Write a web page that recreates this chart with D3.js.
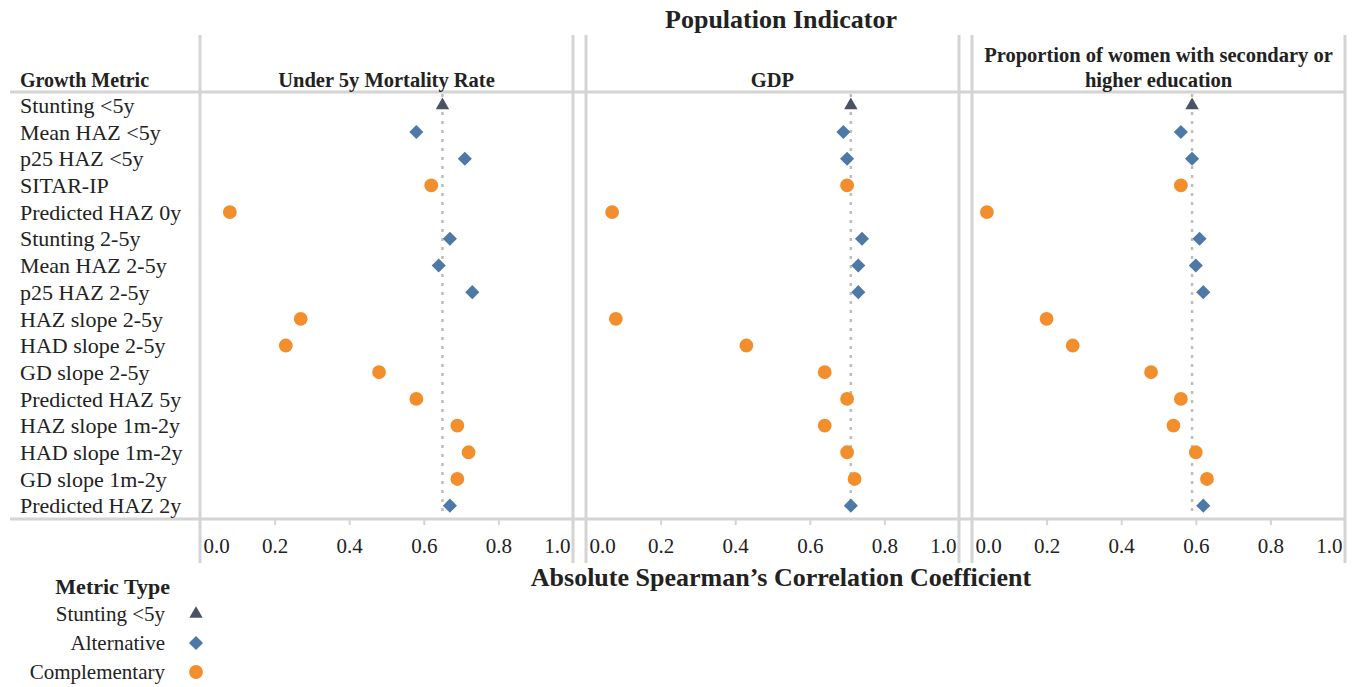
<!DOCTYPE html>
<html>
<head>
<meta charset="utf-8">
<script src="https://cdn.jsdelivr.net/npm/d3@7"></script>
<style>
  body { margin: 0; background: #fff; }
  text { font-family: "Liberation Serif", "Times New Roman", serif; fill: #222; }
</style>
</head>
<body>
<svg class="chart"></svg>
<script>
const categories = ['Stunting <5y', 'Mean HAZ <5y', 'p25 HAZ <5y', 'SITAR-IP', 'Predicted HAZ 0y',
  'Stunting 2-5y', 'Mean HAZ 2-5y', 'p25 HAZ 2-5y', 'HAZ slope 2-5y', 'HAD slope 2-5y', 'GD slope 2-5y',
  'Predicted HAZ 5y', 'HAZ slope 1m-2y', 'HAD slope 1m-2y', 'GD slope 1m-2y', 'Predicted HAZ 2y'];
const metricTypes = ['Stunting <5y', 'Alternative', 'Alternative', 'Complementary', 'Complementary',
  'Alternative', 'Alternative', 'Alternative', 'Complementary', 'Complementary', 'Complementary',
  'Complementary', 'Complementary', 'Complementary', 'Complementary', 'Alternative'];
const mortality = [0.65, 0.58, 0.71, 0.62, 0.08, 0.67, 0.64, 0.73, 0.27, 0.23, 0.48, 0.58, 0.69, 0.72, 0.69, 0.67];
const gdp = [0.71, 0.69, 0.70, 0.70, 0.07, 0.74, 0.73, 0.73, 0.08, 0.43, 0.64, 0.70, 0.64, 0.70, 0.72, 0.71];
const womenEdu = [0.59, 0.56, 0.59, 0.56, 0.04, 0.61, 0.60, 0.62, 0.20, 0.27, 0.48, 0.56, 0.54, 0.60, 0.63, 0.62];
const panelTitles = [['Under 5y Mortality Rate'], ['GDP'], ['Proportion of women with secondary or', 'higher education']];
const panelValues = [mortality, gdp, womenEdu];
const xTicks = [0, 0.2, 0.4, 0.6, 0.8, 1.0];
const legendTypes = ['Stunting <5y', 'Alternative', 'Complementary'];

const width = 1355, height = 687;
const svg = d3.select('.chart').attr('width', width).attr('height', height);

const gridColor = '#d4d4d4';
const colors = {'Stunting <5y': '#4b5263', 'Alternative': '#4e79a7', 'Complementary': '#f28e2b'};
const shapes = {
  'Stunting <5y': d3.symbol().type(d3.symbolTriangle).size(78)(),
  'Alternative': d3.symbol().type(d3.symbolSquare).size(100)(),
  'Complementary': d3.symbol().type(d3.symbolCircle).size(150)()
};
const rotate = t => t === 'Alternative' ? ' rotate(45)' : '';

const rowTop = 92, rowBottom = 519;
const y = d3.scaleBand().domain(categories).range([rowTop, rowBottom]);

const panelLeft = 200, panelWidth = 373, panelGap = 13;

// title
svg.append('text').attr('x', 781).attr('y', 28).attr('text-anchor', 'middle')
  .style('font-size', '26px').style('font-weight', 'bold').text('Population Indicator');

// header and bottom lines
[rowTop, rowBottom].forEach(yy => {
  svg.append('line').attr('x1', 10).attr('x2', 1345).attr('y1', yy).attr('y2', yy)
    .attr('stroke', gridColor).attr('stroke-width', 3);
});

svg.append('text').attr('x', 20).attr('y', 87)
  .style('font-size', '20px').style('font-weight', 'bold').text('Growth Metric');

// row labels
svg.append('g').selectAll('text').data(categories).join('text')
  .attr('x', 20).attr('y', d => y(d) + y.bandwidth() / 2).attr('dy', '0.35em')
  .style('font-size', '22px').text(d => d);

panelValues.forEach((vals, i) => {
  const left = panelLeft + i * (panelWidth + panelGap);
  const x = d3.scaleLinear().domain([0, 1]).range([left, left + panelWidth]);
  const g = svg.append('g');

  [left, left + panelWidth].forEach(xx => {
    g.append('line').attr('x1', xx).attr('x2', xx).attr('y1', 35).attr('y2', 563)
      .attr('stroke', gridColor).attr('stroke-width', 3);
  });

  const title = panelTitles[i];
  title.forEach((line, j) => {
    g.append('text').attr('x', left + panelWidth / 2).attr('y', 87 - (title.length - 1 - j) * 25)
      .attr('text-anchor', 'middle').style('font-size', '20.5px').style('font-weight', 'bold').text(line);
  });

  // axis
  const axis = g.append('g').attr('transform', `translate(0,${rowBottom})`)
    .call(d3.axisBottom(x).tickValues(xTicks).tickFormat(d3.format('.1f')).tickSize(6).tickPadding(13));
  axis.select('.domain').remove();
  axis.selectAll('.tick line').attr('stroke', gridColor).attr('stroke-width', 2);
  axis.selectAll('.tick text').style('font-size', '21px').style('font-family', '"Liberation Serif", serif')
    .attr('fill', '#222')
    .attr('text-anchor', d => d === 0 ? 'start' : d === 1 ? 'end' : 'middle')
    .attr('dx', d => d === 0 ? 3 : d === 1 ? -3 : 0);
  axis.selectAll('.tick').filter(d => d === 0 || d === 1).select('line').remove();

  // reference line at stunting <5y
  g.append('line').attr('x1', x(vals[0])).attr('x2', x(vals[0]))
    .attr('y1', rowTop + 2).attr('y2', rowBottom - 2)
    .attr('stroke', '#bdbdbd').attr('stroke-width', 2.5).attr('stroke-dasharray', '3,6');

  g.selectAll('path.mark').data(categories).join('path').attr('class', 'mark')
    .attr('d', (d, k) => shapes[metricTypes[k]])
    .attr('fill', (d, k) => colors[metricTypes[k]])
    .attr('transform', (d, k) => `translate(${x(vals[k])},${y(d) + y.bandwidth() / 2})${rotate(metricTypes[k])}`);
});

svg.append('text').attr('x', 781).attr('y', 586).attr('text-anchor', 'middle')
  .style('font-size', '26px').style('font-weight', 'bold').text('Absolute Spearman\u2019s Correlation Coefficient');

// legend
svg.append('text').attr('x', 170).attr('y', 594).attr('text-anchor', 'end')
  .style('font-size', '22px').style('font-weight', 'bold').text('Metric Type');
const leg = svg.append('g').selectAll('g').data(legendTypes).join('g')
  .attr('transform', (d, i) => `translate(0,${614 + i * 29})`);
leg.append('text').attr('x', 165).attr('dy', '0.35em').attr('text-anchor', 'end')
  .style('font-size', '21px').text(d => d);
leg.append('path').attr('d', d => shapes[d]).attr('fill', d => colors[d])
  .attr('transform', d => `translate(196,0)${rotate(d)}`);
</script>
</body>
</html>
